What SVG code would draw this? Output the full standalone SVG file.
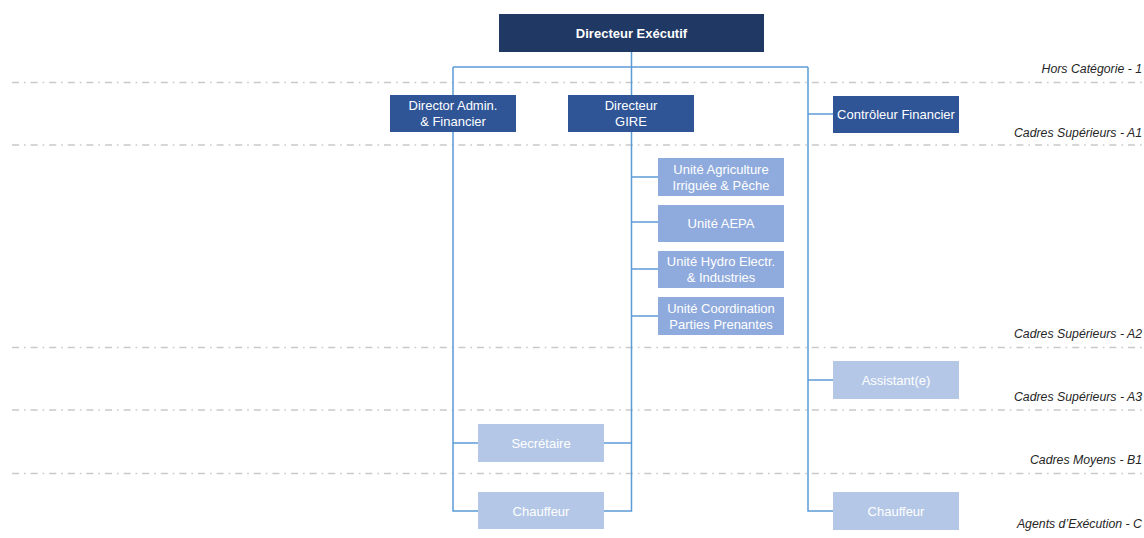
<svg xmlns="http://www.w3.org/2000/svg" width="1144" height="538" viewBox="0 0 1144 538">
  <style>
    .grade { stroke: #c9c9c9; stroke-width: 1.6; stroke-dasharray: 7 5 1.6 5; fill: none; }
    .glabel { font-family: "Liberation Sans", Arial, sans-serif; font-size: 12.3px; font-style: italic; fill: #262626; text-anchor: end; }
    .link { stroke: #5b9bd5; stroke-width: 1.5; fill: none; }
    .txt { font-family: "Liberation Sans", Arial, sans-serif; font-size: 13px; fill: #ffffff; text-anchor: middle; }
    .top { fill: #203864; }
    .dir { fill: #2f5597; }
    .unit { fill: #8faadc; }
    .staff { fill: #b4c7e7; }
  </style>
  <rect width="1144" height="538" fill="#ffffff"/>

  <!-- grade bands -->
  <g id="grades">
    <line class="grade" x1="12" y1="82.5" x2="1144" y2="82.5"/>
    <line class="grade" x1="12" y1="145" x2="1144" y2="145"/>
    <line class="grade" x1="12" y1="347.5" x2="1144" y2="347.5"/>
    <line class="grade" x1="12" y1="410" x2="1144" y2="410"/>
    <line class="grade" x1="12" y1="473.5" x2="1144" y2="473.5"/>
    <text class="glabel" x="1142" y="73">Hors Catégorie - 1</text>
    <text class="glabel" x="1142" y="137">Cadres Supérieurs - A1</text>
    <text class="glabel" x="1142" y="338">Cadres Supérieurs - A2</text>
    <text class="glabel" x="1142" y="401">Cadres Supérieurs - A3</text>
    <text class="glabel" x="1142" y="464">Cadres Moyens - B1</text>
    <text class="glabel" x="1142" y="528">Agents d’Exécution - C</text>
  </g>

  <!-- connectors -->
  <g id="connectors">
    <line class="link" x1="631.5" y1="52" x2="631.5" y2="67"/>
    <line class="link" x1="453" y1="67" x2="808" y2="67"/>
    <!-- admin branch -->
    <polyline class="link" points="453,67 453,511 478,511"/>
    <line class="link" x1="453" y1="443" x2="478" y2="443"/>
    <!-- GIRE branch -->
    <polyline class="link" points="631.5,67 631.5,511 604,511"/>
    <line class="link" x1="604" y1="443" x2="631.5" y2="443"/>
    <line class="link" x1="631.5" y1="177" x2="658" y2="177"/>
    <line class="link" x1="631.5" y1="222" x2="658" y2="222"/>
    <line class="link" x1="631.5" y1="269" x2="658" y2="269"/>
    <line class="link" x1="631.5" y1="316" x2="658" y2="316"/>
    <!-- controller branch -->
    <polyline class="link" points="808,67 808,511 833,511"/>
    <line class="link" x1="808" y1="114" x2="833" y2="114"/>
    <line class="link" x1="808" y1="380" x2="833" y2="380"/>
  </g>

  <g id="directeur-executif">
    <rect class="top" x="499" y="14" width="265" height="38"/>
    <text class="txt" x="631.5" y="37.5" font-weight="bold">Directeur Exécutif</text>
  </g>
  <g id="director-admin">
    <rect class="dir" x="390" y="95" width="126" height="37"/>
    <text class="txt" x="453" y="110">Director Admin.</text>
    <text class="txt" x="453" y="125.5">&amp; Financier</text>
  </g>
  <g id="directeur-gire">
    <rect class="dir" x="568" y="95" width="126" height="37"/>
    <text class="txt" x="631" y="110">Directeur</text>
    <text class="txt" x="631" y="125.5">GIRE</text>
  </g>
  <g id="controleur-financier">
    <rect class="dir" x="833" y="96" width="126" height="37"/>
    <text class="txt" x="896" y="119">Contrôleur Financier</text>
  </g>
  <g id="unite-agriculture">
    <rect class="unit" x="658" y="158" width="126" height="38"/>
    <text class="txt" x="721" y="174">Unité Agriculture</text>
    <text class="txt" x="721" y="189.5">Irriguée &amp; Pêche</text>
  </g>
  <g id="unite-aepa">
    <rect class="unit" x="658" y="205" width="126" height="37"/>
    <text class="txt" x="721" y="228">Unité AEPA</text>
  </g>
  <g id="unite-hydro">
    <rect class="unit" x="658" y="251" width="126" height="37"/>
    <text class="txt" x="721" y="266">Unité Hydro Electr.</text>
    <text class="txt" x="721" y="281.5">&amp; Industries</text>
  </g>
  <g id="unite-coordination">
    <rect class="unit" x="658" y="297" width="126" height="38"/>
    <text class="txt" x="721" y="313">Unité Coordination</text>
    <text class="txt" x="721" y="328.5">Parties Prenantes</text>
  </g>
  <g id="assistant">
    <rect class="staff" x="833" y="361" width="126" height="38"/>
    <text class="txt" x="896" y="385">Assistant(e)</text>
  </g>
  <g id="secretaire">
    <rect class="staff" x="478" y="424" width="126" height="38"/>
    <text class="txt" x="541" y="448">Secrétaire</text>
  </g>
  <g id="chauffeur-gauche">
    <rect class="staff" x="478" y="492" width="126" height="37"/>
    <text class="txt" x="541" y="515.5">Chauffeur</text>
  </g>
  <g id="chauffeur-droite">
    <rect class="staff" x="833" y="492" width="126" height="38"/>
    <text class="txt" x="896" y="516">Chauffeur</text>
  </g>
</svg>
